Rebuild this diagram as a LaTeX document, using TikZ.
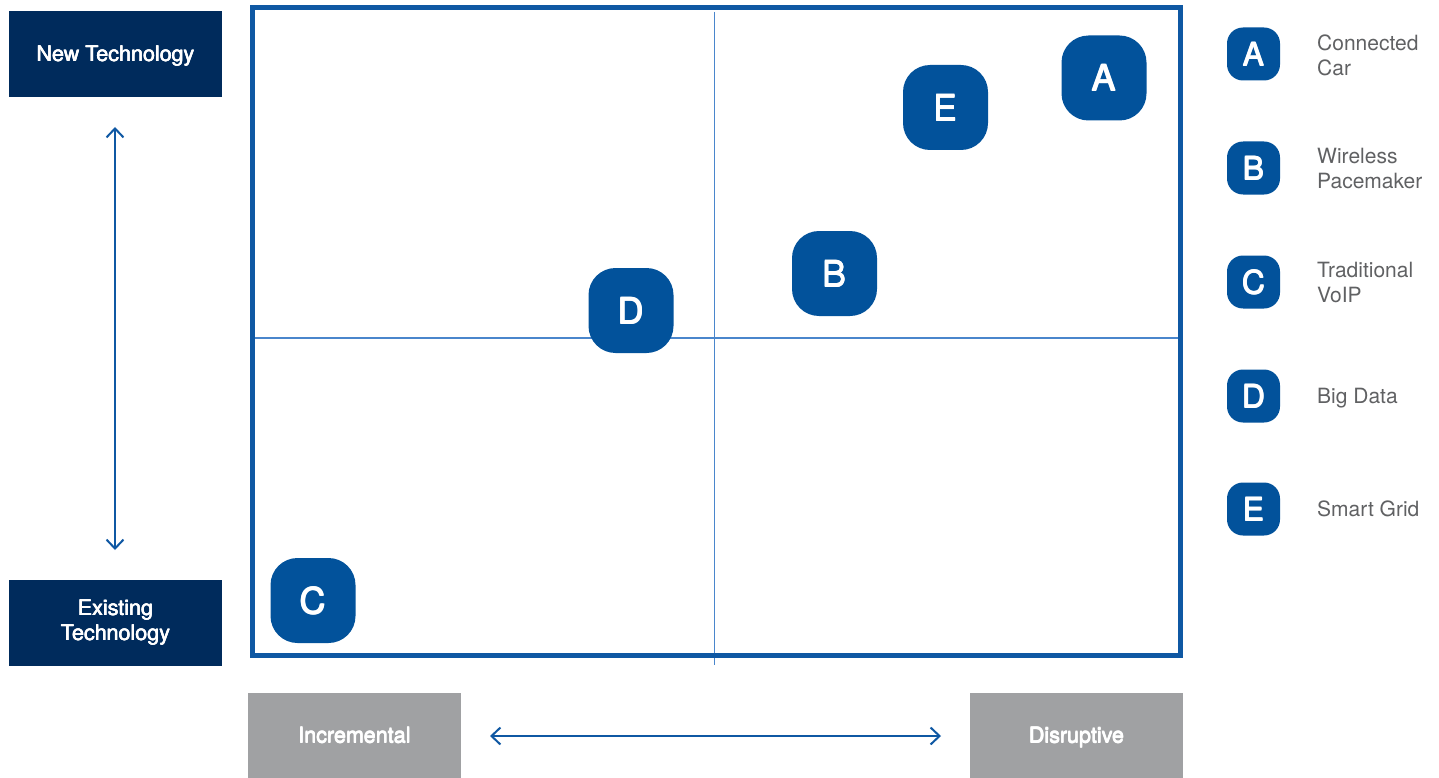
\documentclass[tikz,border=0pt]{standalone}
\usepackage{fontspec}
\setmainfont{TeX Gyre Heros}
\usetikzlibrary{arrows.meta}
\newcommand\emb[2]{\makebox[0pt][l]{#2}\makebox[0pt][l]{\hspace{#1}\raisebox{#1}{#2}}\makebox[0pt][l]{\raisebox{#1}{#2}}\hspace{#1}#2}
\definecolor{navy}{HTML}{002B5C}
\definecolor{ptblue}{HTML}{02529B}
\definecolor{frameblue}{HTML}{0F58A3}
\definecolor{lineblue}{HTML}{4A86CC}
\definecolor{boxgray}{HTML}{A0A1A3}
\definecolor{txtgray}{HTML}{606163}
\tikzset{
  axisbox/.style={fill=navy, text=white, font=\fontsize{21.5}{25}\selectfont, align=center, inner sep=0pt},
  graybox/.style={fill=boxgray, text=white, font=\fontsize{21.5}{25}\selectfont, align=center, inner sep=0pt},
  oneline/.style={text height=15.4pt, text depth=0pt},
  point/.style={fill=ptblue, text=white, minimum width=85pt, minimum height=85pt, rounded corners=27pt, inner sep=0pt, font=\fontsize{36}{36}\selectfont},
  legpt/.style={fill=ptblue, text=white, minimum width=53pt, minimum height=53pt, rounded corners=16pt, inner sep=0pt, font=\fontsize{32}{32}\selectfont},
  legtxt/.style={anchor=west, text=txtgray, align=left, inner sep=0pt, font=\fontsize{21}{25}\selectfont},
  dblarrow/.style={draw=frameblue, line width=2pt, {Straight Barb[length=9pt,width=17pt]}-{Straight Barb[length=9pt,width=17pt]}},
}
\begin{document}
\begin{tikzpicture}[x=1pt,y=-1pt]
\useasboundingbox (0,0) rectangle (1439,778);
% axis boxes
\node[axisbox, oneline, minimum width=213pt, minimum height=86pt] (newtech) at (115.5,54) {\emb{0.55pt}{New Technology}};
\node[axisbox, minimum width=213pt, minimum height=86pt] (existtech) at (115.5,622.5) {\emb{0.55pt}{Existing}\\\emb{0.55pt}{Technology}};
\node[graybox, oneline, minimum width=213pt, minimum height=85pt] (incr) at (354.5,735.5) {\emb{0.55pt}{Incremental}};
\node[graybox, oneline, minimum width=213pt, minimum height=85pt] (disr) at (1076.5,735.5) {\emb{0.55pt}{Disruptive}};
% arrows
\coordinate (vtop) at (115,127);
\coordinate (vbot) at (115,550);
\draw[dblarrow] (vtop) -- (vbot);
\coordinate (hl) at (490,736);
\coordinate (hr) at (941,736);
\draw[dblarrow] (hl) -- (hr);
% quadrant lines
\coordinate (qt) at (714.5,12);
\coordinate (qb) at (714.5,665);
\coordinate (ql) at (253,338);
\coordinate (qr) at (1180,338);
\draw[lineblue, line width=1.1pt] (qt) -- (qb);
\draw[lineblue, line width=1.1pt] (ql) -- (qr);
% frame
\draw[frameblue, line width=5pt] (252.5,7.5) rectangle (1180,655.5);
% points
\node[point] (pA) at (1104,78) {\emb{0.9pt}{A}};
\node[point] (pE) at (945.5,107.5) {\emb{0.9pt}{E}};
\node[point] (pB) at (834.5,273.5) {\emb{0.9pt}{B}};
\node[point] (pD) at (631,310.5) {\emb{0.9pt}{D}};
\node[point] (pC) at (313,600.5) {\emb{0.9pt}{C}};
% legend
\node[legpt] (lA) at (1253.5,54) {\emb{0.8pt}{A}};
\node[legpt] (lB) at (1253.5,168) {\emb{0.8pt}{B}};
\node[legpt] (lC) at (1253.5,282) {\emb{0.8pt}{C}};
\node[legpt] (lD) at (1253.5,396) {\emb{0.8pt}{D}};
\node[legpt] (lE) at (1253.5,509) {\emb{0.8pt}{E}};
\node[legtxt] (tA) at (1317,55) {Connected\\Car};
\node[legtxt] (tB) at (1317,169) {Wireless\\Pacemaker};
\node[legtxt] (tC) at (1317,283) {Traditional\\VoIP};
\node[legtxt, text height=15pt, text depth=0pt] (tD) at (1317,396) {Big Data};
\node[legtxt, text height=15pt, text depth=0pt] (tE) at (1317,509) {Smart Grid};
\end{tikzpicture}
\end{document}
